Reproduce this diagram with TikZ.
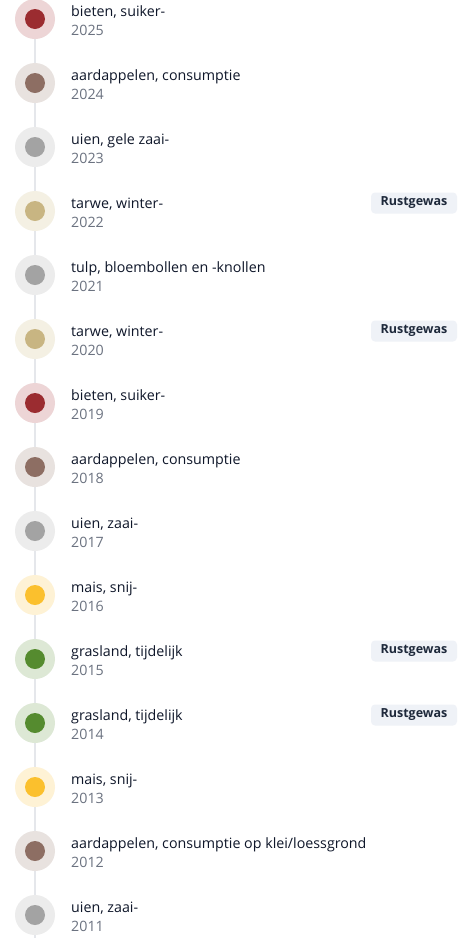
\documentclass[tikz,border=0pt]{standalone}
\usepackage{fontspec}
\setmainfont{Open Sans}
\definecolor{redI}{HTML}{9B2C30}\definecolor{redO}{HTML}{EDD5D6}
\definecolor{brownI}{HTML}{8D6E63}\definecolor{brownO}{HTML}{E8E2DF}
\definecolor{grayI}{HTML}{A3A3A3}\definecolor{grayO}{HTML}{ECECEC}
\definecolor{tanI}{HTML}{C8B582}\definecolor{tanO}{HTML}{F4F0E3}
\definecolor{yellowI}{HTML}{FBC02D}\definecolor{yellowO}{HTML}{FEF2D5}
\definecolor{greenI}{HTML}{558B2F}\definecolor{greenO}{HTML}{DDE8D5}
\definecolor{linecol}{HTML}{E5E7EB}
\definecolor{titlecol}{HTML}{0F172A}
\definecolor{yearcol}{HTML}{6B7280}
\definecolor{badgefill}{HTML}{EFF2F7}
\definecolor{badgetext}{HTML}{1E293B}
\newcommand\croprow[4]{%
  \pgfmathsetmacro\cy{19+64*#1}%
  \node[outerdot=#4O] (c#1) at (35,\cy) {};
  \node[innerdot=#4I] (d#1) at (c#1) {};
  \node[titletext] (t#1) at (71,\cy-3) {#2};
  \node[yeartext] (y#1) at (71,\cy+16) {#3};
}
\newcommand\cropbadge[1]{%
  \pgfmathsetmacro\cy{19+64*#1}%
  \node[badgebox] (b#1) at (414,\cy-8) {Rustgewas};
}
\begin{document}
\begin{tikzpicture}[x=1pt,y=-1pt,
  outerdot/.style={circle,minimum size=40pt,inner sep=0pt,fill=#1},
  innerdot/.style={circle,minimum size=20pt,inner sep=0pt,fill=#1},
  titletext/.style={anchor=base west,inner sep=0pt,text=titlecol,font=\fontsize{14.25}{16}\selectfont},
  yeartext/.style={anchor=base west,inner sep=0pt,text=yearcol,font=\fontsize{14.25}{16}\selectfont},
  badgebox/.style={rounded corners=4pt,fill=badgefill,minimum width=86pt,minimum height=21pt,inner sep=0pt,text=badgetext,font=\fontsize{12.5}{14}\selectfont\bfseries},
  spine/.style={draw=linecol,line width=2pt}]
\useasboundingbox (0,0) rectangle (473,938);
\fill[white] (0,0) rectangle (473,938);
\foreach \i in {0,...,14}{\coordinate (p\i) at (35,19+64*\i);}
\coordinate (pend) at (35,938);
\foreach \i [evaluate=\i as \j using int(\i+1)] in {0,...,13}{\draw[spine] (p\i) -- (p\j);}
\draw[spine] (p14) -- (pend);
\croprow{0}{bieten, suiker-}{2025}{red}
\croprow{1}{aardappelen, consumptie}{2024}{brown}
\croprow{2}{uien, gele zaai-}{2023}{gray}
\croprow{3}{tarwe, winter-}{2022}{tan}
\croprow{4}{tulp, bloembollen en -knollen}{2021}{gray}
\croprow{5}{tarwe, winter-}{2020}{tan}
\croprow{6}{bieten, suiker-}{2019}{red}
\croprow{7}{aardappelen, consumptie}{2018}{brown}
\croprow{8}{uien, zaai-}{2017}{gray}
\croprow{9}{mais, snij-}{2016}{yellow}
\croprow{10}{grasland, tijdelijk}{2015}{green}
\croprow{11}{grasland, tijdelijk}{2014}{green}
\croprow{12}{mais, snij-}{2013}{yellow}
\croprow{13}{aardappelen, consumptie op klei/loessgrond}{2012}{brown}
\croprow{14}{uien, zaai-}{2011}{gray}
\cropbadge{3}
\cropbadge{5}
\cropbadge{10}
\cropbadge{11}
\end{tikzpicture}
\end{document}
